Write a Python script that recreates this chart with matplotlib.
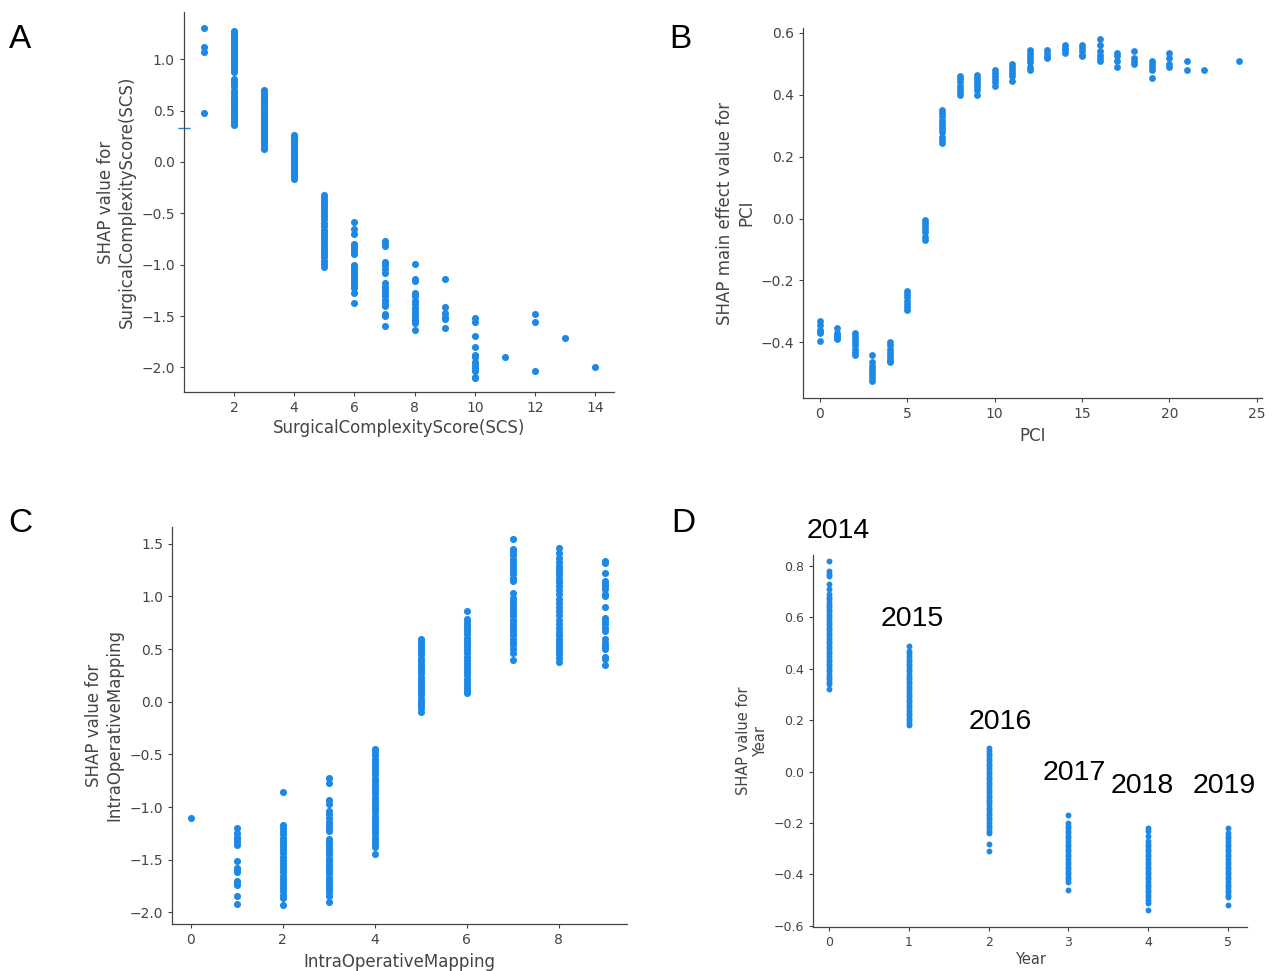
import numpy as np
import matplotlib.pyplot as plt

# SHAP dependence values, one list per feature level

scs_levels = [1, 2, 3, 4, 5, 6, 7, 8, 9, 10, 11, 12, 13, 14]
scs_shap = [
    [1.30, 1.12, 1.07, 0.48],
    [1.28, 1.26, 1.24, 1.22, 1.20, 1.18, 1.16, 1.14, 1.12, 1.10, 1.08, 1.06, 1.04, 1.02,
     1.00, 0.98, 0.96, 0.94, 0.92, 0.90, 0.88, 0.81, 0.79, 0.77, 0.74, 0.70, 0.67, 0.64,
     0.62, 0.60, 0.58, 0.56, 0.54, 0.52, 0.50, 0.48, 0.46, 0.44, 0.42, 0.40, 0.38, 0.36],
    [0.70, 0.68, 0.66, 0.64, 0.62, 0.60, 0.58, 0.56, 0.54, 0.52, 0.50, 0.48, 0.46, 0.44,
     0.42, 0.40, 0.38, 0.36, 0.34, 0.32, 0.30, 0.28, 0.26, 0.24, 0.22, 0.20, 0.18, 0.16,
     0.14, 0.13],
    [0.26, 0.24, 0.22, 0.20, 0.18, 0.16, 0.14, 0.12, 0.10, 0.08, 0.06, 0.04, 0.02, 0.00,
     -0.02, -0.04, -0.06, -0.08, -0.10, -0.12, -0.14, -0.17],
    [-0.32, -0.35, -0.38, -0.41, -0.44, -0.47, -0.50, -0.53, -0.56, -0.59, -0.62, -0.66,
     -0.69, -0.72, -0.75, -0.78, -0.81, -0.84, -0.87, -0.90, -0.93, -0.96, -0.99, -1.02],
    [-0.58, -0.65, -0.70, -0.80, -0.82, -0.85, -0.88, -0.90, -1.00, -1.03, -1.05, -1.08,
     -1.10, -1.12, -1.15, -1.18, -1.20, -1.23, -1.28, -1.37],
    [-0.77, -0.80, -0.82, -0.97, -1.00, -1.04, -1.08, -1.18, -1.22, -1.25, -1.28, -1.31,
     -1.34, -1.37, -1.40, -1.48, -1.50, -1.60],
    [-0.99, -1.14, -1.16, -1.28, -1.31, -1.35, -1.38, -1.42, -1.45, -1.48, -1.51, -1.54,
     -1.57, -1.64],
    [-1.14, -1.41, -1.47, -1.51, -1.53, -1.62],
    [-1.52, -1.56, -1.69, -1.80, -1.88, -1.90, -1.95, -1.98, -2.01, -2.04, -2.09, -2.10],
    [-1.90],
    [-1.48, -1.56, -2.04],
    [-1.71],
    [-2.00],
]
scs_edge_y = 0.33   # clipped point showing as a dash on the left spine

pci_levels = [0, 1, 2, 3, 4, 5, 6, 7, 8, 9, 10, 11, 12, 13, 14, 15, 16, 17, 18, 19, 20, 21, 22, 24]
pci_shap = [
    [-0.33, -0.345, -0.36, -0.365, -0.37, -0.395],
    [-0.355, -0.37, -0.375, -0.38, -0.385, -0.39],
    [-0.37, -0.38, -0.39, -0.40, -0.41, -0.42, -0.43, -0.44],
    [-0.44, -0.465, -0.475, -0.485, -0.495, -0.505, -0.515, -0.525],
    [-0.40, -0.41, -0.42, -0.43, -0.44, -0.45, -0.46, -0.465],
    [-0.235, -0.245, -0.255, -0.265, -0.275, -0.285, -0.295],
    [-0.005, -0.015, -0.025, -0.035, -0.045, -0.06, -0.07],
    [0.35, 0.34, 0.33, 0.32, 0.31, 0.30, 0.29, 0.28, 0.265, 0.255, 0.245],
    [0.46, 0.45, 0.44, 0.43, 0.42, 0.41, 0.40],
    [0.465, 0.455, 0.445, 0.435, 0.425, 0.415, 0.40],
    [0.48, 0.47, 0.46, 0.45, 0.44, 0.43],
    [0.50, 0.49, 0.48, 0.47, 0.46, 0.445],
    [0.545, 0.535, 0.525, 0.515, 0.505, 0.49, 0.48],
    [0.545, 0.535, 0.525, 0.52],
    [0.56, 0.55, 0.545, 0.535],
    [0.56, 0.55, 0.54, 0.53, 0.525],
    [0.58, 0.56, 0.54, 0.53, 0.52, 0.51],
    [0.535, 0.525, 0.51, 0.49],
    [0.54, 0.52, 0.51, 0.50],
    [0.51, 0.50, 0.49, 0.48, 0.455],
    [0.535, 0.52, 0.50, 0.49],
    [0.51, 0.48],
    [0.48],
    [0.51],
]

iom_levels = [0, 1, 2, 3, 4, 5, 6, 7, 8, 9]
iom_shap = [
    [-1.10],
    [-1.20, -1.25, -1.28, -1.30, -1.33, -1.36, -1.51, -1.58, -1.60, -1.62, -1.70, -1.72,
     -1.74, -1.84, -1.92],
    [-0.86, -1.17, -1.20, -1.23, -1.26, -1.29, -1.32, -1.35, -1.38, -1.41, -1.44, -1.47,
     -1.50, -1.53, -1.56, -1.59, -1.62, -1.65, -1.68, -1.71, -1.74, -1.77, -1.80, -1.83,
     -1.86, -1.93],
    [-0.72, -0.77, -0.93, -0.97, -1.04, -1.07, -1.10, -1.14, -1.17, -1.20, -1.23, -1.30,
     -1.33, -1.36, -1.39, -1.42, -1.45, -1.48, -1.51, -1.54, -1.57, -1.60, -1.63, -1.66,
     -1.69, -1.72, -1.75, -1.78, -1.81, -1.84, -1.90],
    [-0.45, -0.48, -0.51, -0.54, -0.57, -0.60, -0.63, -0.66, -0.69, -0.72, -0.75, -0.78,
     -0.81, -0.84, -0.87, -0.90, -0.93, -0.96, -0.99, -1.02, -1.05, -1.08, -1.11, -1.14,
     -1.17, -1.20, -1.23, -1.26, -1.29, -1.32, -1.35, -1.38, -1.45],
    [0.60, 0.57, 0.54, 0.51, 0.48, 0.45, 0.42, 0.39, 0.36, 0.33, 0.30, 0.27, 0.24, 0.21,
     0.18, 0.15, 0.12, 0.09, 0.06, 0.03, 0.00, -0.03, -0.06, -0.10],
    [0.86, 0.79, 0.76, 0.73, 0.70, 0.67, 0.64, 0.61, 0.58, 0.55, 0.52, 0.49, 0.46, 0.43,
     0.40, 0.37, 0.34, 0.31, 0.28, 0.25, 0.22, 0.19, 0.16, 0.13, 0.10, 0.08],
    [1.55, 1.45, 1.42, 1.39, 1.36, 1.33, 1.30, 1.27, 1.24, 1.21, 1.18, 1.15, 1.03, 0.99,
     0.96, 0.93, 0.90, 0.87, 0.84, 0.81, 0.78, 0.75, 0.72, 0.69, 0.66, 0.63, 0.60, 0.57,
     0.54, 0.50, 0.46, 0.40],
    [1.46, 1.41, 1.37, 1.33, 1.29, 1.26, 1.23, 1.20, 1.17, 1.14, 1.10, 1.06, 1.02, 0.98,
     0.94, 0.90, 0.86, 0.82, 0.78, 0.74, 0.70, 0.66, 0.63, 0.60, 0.57, 0.54, 0.51, 0.48,
     0.45, 0.42, 0.38],
    [1.34, 1.32, 1.22, 1.15, 1.12, 1.10, 1.07, 1.02, 1.00, 0.90, 0.80, 0.77, 0.74, 0.70,
     0.67, 0.60, 0.56, 0.53, 0.50, 0.43, 0.41, 0.35],
]

year_levels = [0, 1, 2, 3, 4, 5]
year_names = ["2014", "2015", "2016", "2017", "2018", "2019"]
year_shap = [
    [0.82, 0.78, 0.77, 0.76, 0.73, 0.71, 0.69, 0.68, 0.67, 0.66, 0.65, 0.64, 0.63, 0.62,
     0.61, 0.60, 0.59, 0.58, 0.57, 0.56, 0.55, 0.54, 0.53, 0.52, 0.51, 0.50, 0.49, 0.48,
     0.47, 0.46, 0.45, 0.44, 0.43, 0.42, 0.41, 0.40, 0.39, 0.38, 0.37, 0.36, 0.35, 0.34,
     0.32],
    [0.49, 0.47, 0.46, 0.45, 0.44, 0.43, 0.42, 0.41, 0.40, 0.39, 0.38, 0.37, 0.36, 0.35,
     0.34, 0.33, 0.32, 0.31, 0.30, 0.29, 0.28, 0.27, 0.26, 0.25, 0.24, 0.23, 0.22, 0.21,
     0.20, 0.19, 0.18],
    [0.09, 0.08, 0.07, 0.06, 0.05, 0.04, 0.03, 0.02, 0.01, 0.00, -0.01, -0.02, -0.03,
     -0.04, -0.05, -0.06, -0.07, -0.08, -0.09, -0.10, -0.11, -0.12, -0.13, -0.14, -0.15,
     -0.16, -0.17, -0.18, -0.19, -0.20, -0.21, -0.22, -0.23, -0.24, -0.28, -0.31],
    [-0.17, -0.20, -0.21, -0.22, -0.23, -0.24, -0.25, -0.26, -0.27, -0.28, -0.29, -0.30,
     -0.31, -0.32, -0.33, -0.34, -0.35, -0.36, -0.37, -0.38, -0.39, -0.40, -0.41, -0.42,
     -0.43, -0.46],
    [-0.22, -0.23, -0.25, -0.27, -0.28, -0.29, -0.30, -0.31, -0.32, -0.33, -0.34, -0.35,
     -0.36, -0.37, -0.38, -0.39, -0.40, -0.41, -0.42, -0.43, -0.44, -0.45, -0.46, -0.47,
     -0.48, -0.49, -0.50, -0.51, -0.54],
    [-0.22, -0.24, -0.25, -0.26, -0.27, -0.28, -0.29, -0.30, -0.31, -0.32, -0.33, -0.34,
     -0.35, -0.36, -0.37, -0.38, -0.39, -0.40, -0.41, -0.42, -0.43, -0.44, -0.45, -0.46,
     -0.47, -0.48, -0.49, -0.52],
]
# where the year names sit (data coords of panel D)
year_label_x = [0.11, 1.04, 2.15, 3.08, 3.93, 4.95]
year_label_y = [0.936, 0.594, 0.193, -0.005, -0.056, -0.056]

BLUE = "#1E88E5"
GREY = "#444444"


def flatten(levels, values):
    xs = np.repeat(levels, [len(v) for v in values])
    ys = np.concatenate([np.asarray(v, dtype=float) for v in values])
    return xs, ys


def shap_style(ax, tick_size):
    ax.spines["top"].set_visible(False)
    ax.spines["right"].set_visible(False)
    for s in ("left", "bottom"):
        ax.spines[s].set_color(GREY)
        ax.spines[s].set_linewidth(0.9)
    ax.tick_params(color=GREY, labelcolor=GREY, labelsize=tick_size, length=3, width=0.8)


fig = plt.figure(figsize=(12.73, 9.71), dpi=100)

# panel A
axA = fig.add_axes([0.1445, 0.5963, 0.3378, 0.3913])
x, y = flatten(scs_levels, scs_shap)
axA.scatter(x, y, s=26, color=BLUE, linewidths=0)
axA.set_xlim(0.34, 14.62)
axA.set_ylim(-2.24, 1.46)
axA.plot([0.34], [scs_edge_y], marker="_", markersize=8, color=BLUE, clip_on=False)
axA.set_xticks([2, 4, 6, 8, 10, 12, 14])
axA.set_yticks([-2.0, -1.5, -1.0, -0.5, 0.0, 0.5, 1.0])
shap_style(axA, 10)
axA.set_xlabel("SurgicalComplexityScore(SCS)", fontsize=12, color=GREY, labelpad=3)
axA.set_ylabel("SHAP value for\nSurgicalComplexityScore(SCS)", fontsize=12, color=GREY)

# panel B
axB = fig.add_axes([0.6308, 0.5901, 0.3606, 0.3811])
x, y = flatten(pci_levels, pci_shap)
axB.scatter(x, y, s=24, color=BLUE, linewidths=0)
axB.set_xlim(-0.97, 25.3)
axB.set_ylim(-0.58, 0.616)
axB.set_xticks([0, 5, 10, 15, 20, 25])
axB.set_yticks([-0.4, -0.2, 0.0, 0.2, 0.4, 0.6])
shap_style(axB, 10)
axB.set_xlabel("PCI", fontsize=12, color=GREY)
axB.set_ylabel("SHAP main effect value for\nPCI", fontsize=12, color=GREY)

# panel C
axC = fig.add_axes([0.1351, 0.0484, 0.3574, 0.4089])
x, y = flatten(iom_levels, iom_shap)
axC.scatter(x, y, s=26, color=BLUE, linewidths=0)
axC.set_xlim(-0.41, 9.48)
axC.set_ylim(-2.11, 1.66)
axC.set_xticks([0, 2, 4, 6, 8])
axC.set_yticks([-2.0, -1.5, -1.0, -0.5, 0.0, 0.5, 1.0, 1.5])
shap_style(axC, 10)
axC.set_xlabel("IntraOperativeMapping", fontsize=12, color=GREY)
axC.set_ylabel("SHAP value for\nIntraOperativeMapping", fontsize=12, color=GREY)

# panel D
axD = fig.add_axes([0.6387, 0.0453, 0.3409, 0.3831])
x, y = flatten(year_levels, year_shap)
axD.scatter(x, y, s=18, color=BLUE, linewidths=0)
axD.set_xlim(-0.2, 5.24)
axD.set_ylim(-0.605, 0.843)
axD.set_xticks(year_levels)
axD.set_yticks([-0.6, -0.4, -0.2, 0.0, 0.2, 0.4, 0.6, 0.8])
shap_style(axD, 9)
axD.set_xlabel("Year", fontsize=10.5, color=GREY, labelpad=2)
axD.set_ylabel("SHAP value for\nYear", fontsize=10.5, color=GREY)
for name, lx, ly in zip(year_names, year_label_x, year_label_y):
    axD.text(lx, ly, name, fontsize=20.5, family="Liberation Sans", color="black",
             ha="center", va="center", clip_on=False)

# panel letters
for letter, px, py in [("A", 20, 40), ("B", 680, 40), ("C", 20, 523), ("D", 683, 523)]:
    fig.text(px / 1273, 1 - py / 971, letter, fontsize=24, family="Liberation Sans",
             ha="center", va="center")

fig.savefig("out.png", dpi=100)
